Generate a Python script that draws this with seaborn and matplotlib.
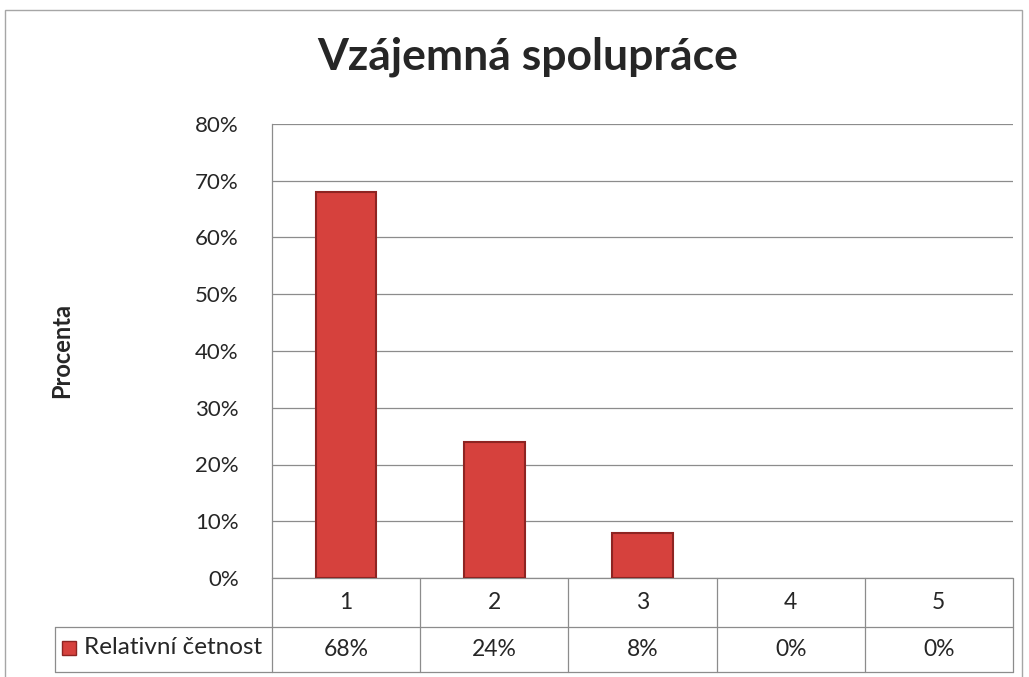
import numpy as np
import pandas as pd
import matplotlib.pyplot as plt
from matplotlib.patches import Rectangle
from matplotlib.lines import Line2D
import seaborn as sns

sns.set_theme(style="white")
plt.rcParams['font.family'] = ['Lato', 'DejaVu Sans']

# data
categories = ["1", "2", "3", "4", "5"]
values = [68, 24, 8, 0, 0]
value_labels = ["68%", "24%", "8%", "0%", "0%"]
series_name = "Relativní četnost"
title = "Vzájemná spolupráce"
ylabel = "Procenta"

df = pd.DataFrame({"kat": categories, "hodnota": values})

fig = plt.figure(figsize=(10.29, 6.77), dpi=100)
ax = fig.add_axes([272 / 1029, 1 - 578 / 677, (1013 - 272) / 1029, (578 - 124) / 677])

bar_col = "#d6413d"
edge_col = "#8e2422"
sns.barplot(data=df, x="kat", y="hodnota", color=bar_col, width=0.41,
            edgecolor=edge_col, linewidth=1.5, ax=ax, zorder=3, saturation=1)
# zero bars: nothing visible
for p in ax.patches:
    if p.get_height() == 0:
        p.set_linewidth(0)

ax.set_ylim(0, 80)
ax.set_xlim(-0.5, 4.5)
ax.set_yticks(range(0, 81, 10))
ax.set_yticklabels([f"{v}%" for v in range(0, 81, 10)], fontsize=16)
ax.yaxis.grid(True, color="#8c8c8c", linewidth=0.9, zorder=0)
ax.tick_params(axis="y", length=0, pad=24)
ax.set_xticks([])
ax.set_xlabel("")
ax.set_ylabel("")
for s in ["top", "right", "bottom"]:
    ax.spines[s].set_visible(False)
ax.spines["left"].set_color("#8c8c8c")
ax.spines["left"].set_linewidth(0.9)

# title + y label
fig.text(0.513, 1 - 57 / 677, title, ha="center", va="center",
         fontsize=32, fontweight="bold")
fig.text(62 / 1029, 1 - 350 / 677, ylabel, ha="center", va="center",
         rotation=90, fontsize=17, fontweight="bold")

# data table below the plot
grey = "#8c8c8c"
trans = ax.get_xaxis_transform()
row1_top, row1_bot, row2_bot = 0.0, -49 / 454, -94 / 454
for y in [row1_top, row1_bot, row2_bot]:
    ax.add_line(Line2D([-0.5, 4.5], [y, y], transform=trans, color=grey,
                       lw=0.9, clip_on=False))
for i in range(len(categories) + 1):
    ax.add_line(Line2D([i - 0.5, i - 0.5], [row1_top, row2_bot], transform=trans,
                       color=grey, lw=0.9, clip_on=False))
for i, (c, lab) in enumerate(zip(categories, value_labels)):
    ax.text(i, (row1_top + row1_bot) / 2, c, transform=trans, ha="center",
            va="center", fontsize=16.5)
    ax.text(i, (row1_bot + row2_bot) / 2, lab, transform=trans, ha="center",
            va="center", fontsize=16.5)

# legend cell
x0 = 55 / 1029
fig.add_artist(Line2D([x0, 272 / 1029], [1 - 627 / 677] * 2, color=grey, lw=0.9))
fig.add_artist(Line2D([x0, 272 / 1029], [1 - 672 / 677] * 2, color=grey, lw=0.9))
fig.add_artist(Line2D([x0, x0], [1 - 627 / 677, 1 - 672 / 677], color=grey, lw=0.9))
fig.add_artist(Rectangle((62 / 1029, 1 - 655 / 677), 14 / 1029, 14 / 677,
                         facecolor=bar_col, edgecolor=edge_col, lw=1))
fig.text(84 / 1029, 1 - 647 / 677, series_name, ha="left", va="center", fontsize=17.5)

# chart border
fig.add_artist(Rectangle((5 / 1029, -0.01), 1017 / 1029, 1 - 10 / 677 + 0.01,
                         fill=False, edgecolor="#a6a6a6", lw=1))

fig.savefig("out.png", dpi=100)
